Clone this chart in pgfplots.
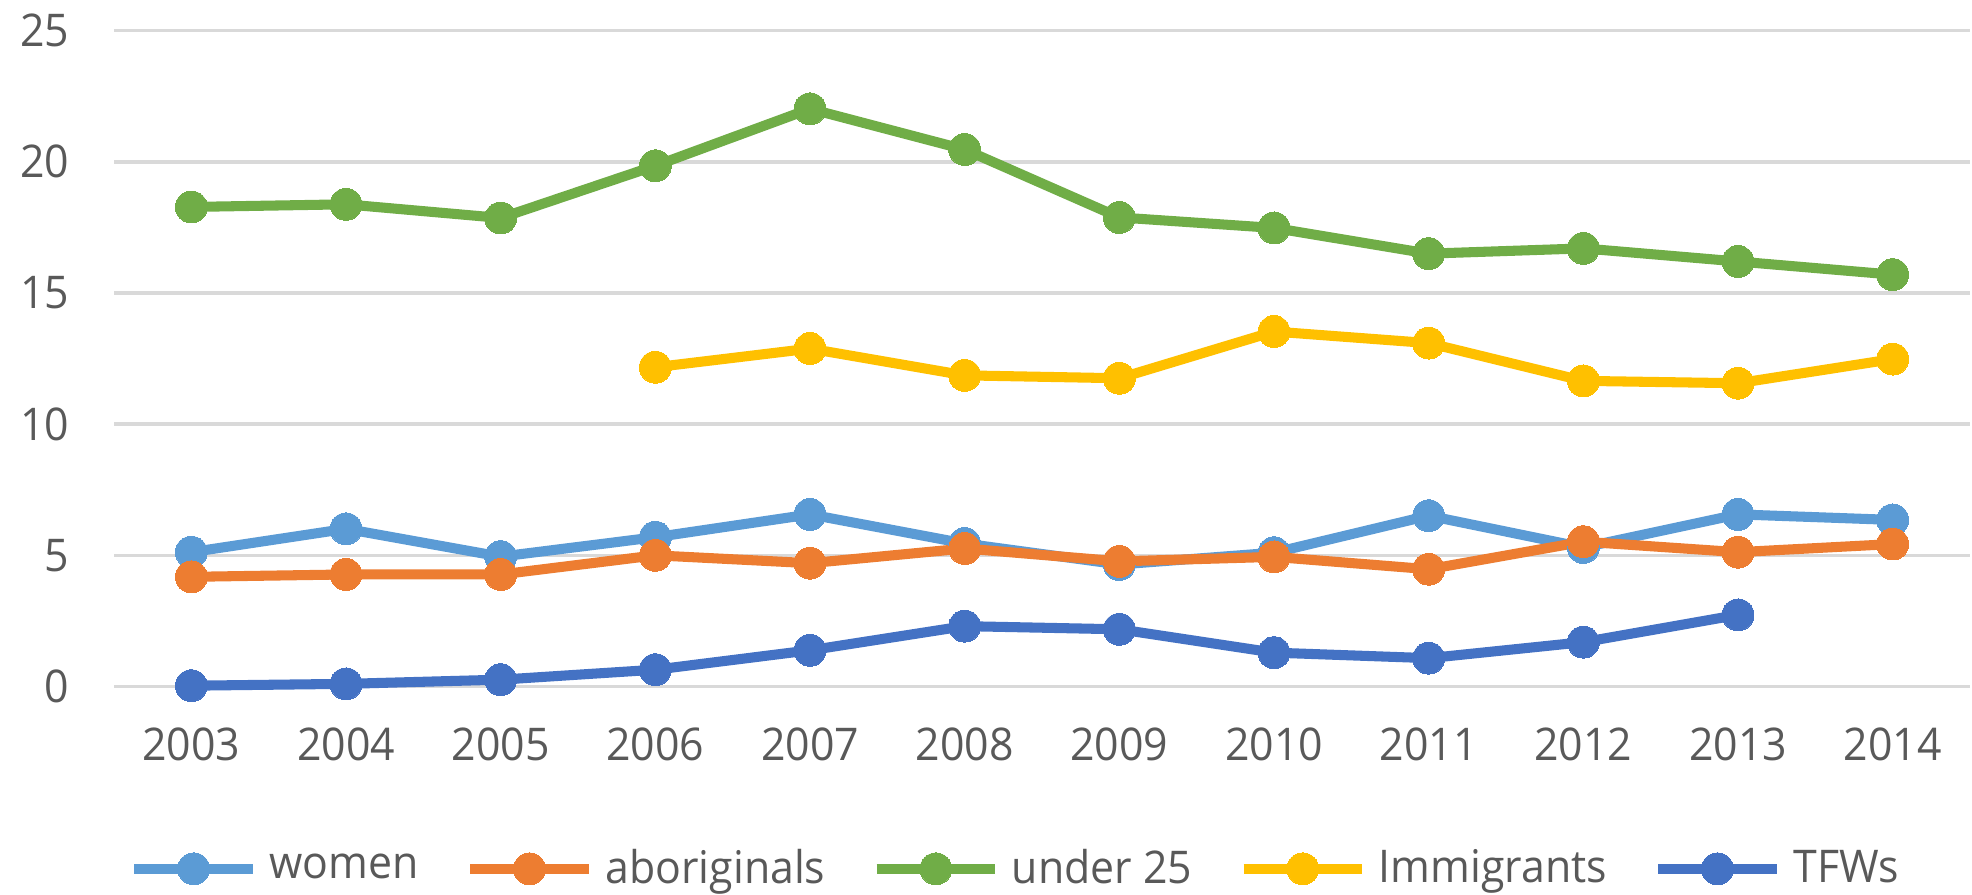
\documentclass[border=0pt]{standalone}
\usepackage{pgfplots}
\pgfplotsset{compat=1.18}
\usepackage{fontspec}
\setmainfont{Open Sans}[FakeStretch=0.95]
\definecolor{cwomen}{HTML}{5B9BD5}
\definecolor{cabor}{HTML}{ED7D31}
\definecolor{cunder}{HTML}{70AD47}
\definecolor{cimm}{HTML}{FFC000}
\definecolor{ctfw}{HTML}{4472C4}
\definecolor{cgrid}{HTML}{D9D9D9}
\definecolor{ctext}{HTML}{595959}
\begin{document}
\begin{tikzpicture}
\path[use as bounding box] (-1.156cm,-2.11cm) rectangle (18.84cm,6.961cm);
\begin{axis}[
  at={(0,0)}, anchor=south west,
  scale only axis, width=18.82cm, height=6.65cm,
  xmin=-0.5, xmax=11.5, ymin=0, ymax=25,
  clip=false,
  axis line style={draw=none},
  xtick={0,...,11},
  xticklabels={2003,2004,2005,2006,2007,2008,2009,2010,2011,2012,2013,2014},
  ytick={0,5,10,15,20,25},
  major tick length=0pt,
  ymajorgrids, grid style={cgrid, line width=1pt},
  tick label style={font=\fontsize{13}{16}\selectfont, text=ctext},
  /pgf/number format/assume math mode=true,
  xticklabel style={yshift=-0.3cm},
  yticklabel style={xshift=-0.33cm},
  legend columns=5,
  legend style={at={(0.485,-0.278)}, anchor=center, draw=none, fill=none,
    font=\fontsize{13}{16}\selectfont, text=ctext,
    nodes={inner sep=0pt},
    /tikz/every odd column/.style={column sep=0.12cm},
    /tikz/every even column/.style={column sep=0.47cm}},
  legend cell align=left,
  legend image code/.code={\draw[mark repeat=2,mark phase=2,#1] plot coordinates {(0cm,0cm) (0.6cm,0cm) (1.2cm,0cm)};},
  every axis plot/.append style={line width=2.9pt, mark=*, mark size=4.6pt},
]
\addplot[color=cwomen, mark options={fill=cwomen, draw=cwomen, line width=0pt}] coordinates {
(0,5.12) (1,6.01) (2,4.95) (3,5.69) (4,6.56) (5,5.45) (6,4.65) (7,5.10) (8,6.51) (9,5.30) (10,6.56) (11,6.35)};
\addlegendentry{women}
\addplot[color=cabor, mark options={fill=cabor, draw=cabor, line width=0pt}] coordinates {
(0,4.18) (1,4.27) (2,4.27) (3,5.00) (4,4.70) (5,5.26) (6,4.77) (7,4.94) (8,4.47) (9,5.52) (10,5.12) (11,5.43)};
\addlegendentry{aboriginals}
\addplot[color=cunder, mark options={fill=cunder, draw=cunder, line width=0pt}] coordinates {
(0,18.28) (1,18.38) (2,17.86) (3,19.85) (4,22.02) (5,20.47) (6,17.88) (7,17.48) (8,16.50) (9,16.70) (10,16.20) (11,15.70)};
\addlegendentry{under 25}
\addplot[color=cimm, mark options={fill=cimm, draw=cimm, line width=0pt}] coordinates {
(3,12.17) (4,12.88) (5,11.86) (6,11.75) (7,13.53) (8,13.09) (9,11.65) (10,11.56) (11,12.48)};
\addlegendentry{Immigrants}
\addplot[color=ctfw, mark options={fill=ctfw, draw=ctfw, line width=0pt}] coordinates {
(0,0.03) (1,0.10) (2,0.26) (3,0.64) (4,1.38) (5,2.30) (6,2.18) (7,1.29) (8,1.08) (9,1.69) (10,2.73)};
\addlegendentry{TFWs}
\end{axis}
\end{tikzpicture}
\end{document}
